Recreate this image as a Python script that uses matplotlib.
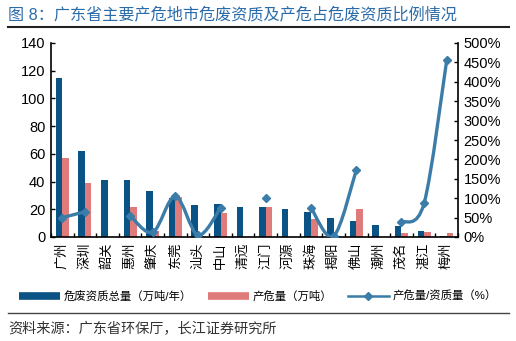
import matplotlib
matplotlib.use("Agg")
import matplotlib.pyplot as plt
import numpy as np
from matplotlib.path import Path
from matplotlib.patches import PathPatch
from matplotlib.lines import Line2D
from matplotlib.ticker import FuncFormatter, MultipleLocator, FixedLocator

plt.rcParams['font.family'] = ['Liberation Sans', 'Noto Sans CJK SC', 'DejaVu Sans']

cities = ['广州', '深圳', '韶关', '惠州', '肇庆', '东莞', '汕头', '中山', '清远',
          '江门', '河源', '珠海', '揭阳', '佛山', '潮州', '茂名', '湛江', '梅州']
capacity = [115, 62, 41, 41, 33, 28, 23, 24, 22, 22, 20, 18, 14, 11.5, 8.5, 8, 4.3, 0.7]
produced = [57, 39, 0, 22, 4, 29, 0.5, 17, 0, 22, 0, 13, 0.5, 20, 0, 3, 3.6, 3]
ratio = [50, 65, None, 55, 12, 105, 5, 75, None, 100, None, 75, 2, 172, None, 38, 87, 455]

c_blue = '#0B5385'
c_red = '#E07B7B'
c_line = '#3B7CA8'

fig = plt.figure(figsize=(5.16, 3.41), dpi=100)
ax = fig.add_axes([51/516, 1-237/341, (458-51)/516, (237-43)/341])
ax2 = ax.twinx()

x = np.arange(len(cities))
w = 0.29
ax.bar(x - w/2, capacity, w, color=c_blue, zorder=2)
ax.bar(x + w/2, produced, w, color=c_red, zorder=2)

ax.set_xlim(-0.5, len(cities) - 0.5)
ax.set_ylim(0, 140)
ax.yaxis.set_major_locator(MultipleLocator(20))
ax2.set_ylim(0, 500)
ax2.yaxis.set_major_locator(MultipleLocator(50))
ax2.yaxis.set_major_formatter(FuncFormatter(lambda v, p: f'{int(v)}%'))

ax.set_xticks(x)
ax.set_xticklabels(cities, rotation=90, fontsize=9.5)
ax.xaxis.set_minor_locator(FixedLocator(np.arange(-0.5, len(cities), 1.0)))
ax.tick_params(axis='x', which='major', length=0, pad=4)
ax.tick_params(axis='x', which='minor', direction='in', length=3, width=1)
ax.tick_params(axis='y', direction='in', length=3, width=1, labelsize=10.5, pad=4)
ax2.tick_params(axis='y', direction='in', length=3, width=1, labelsize=10.5, pad=4)

for a in (ax, ax2):
    a.spines['top'].set_visible(False)
    for s in ('left', 'right', 'bottom'):
        a.spines[s].set_linewidth(1.2)
ax.spines['right'].set_visible(False)
ax2.spines['left'].set_visible(False)
ax2.spines['bottom'].set_visible(False)

# smoothed line segments (Catmull-Rom -> Bezier), split at missing values
runs = []
cur = []
for i, r in enumerate(ratio):
    if r is None:
        if cur:
            runs.append(cur)
        cur = []
    else:
        cur.append((i, r))
if cur:
    runs.append(cur)

for run in runs:
    pts = np.array(run, dtype=float)
    if len(pts) >= 2:
        verts = [tuple(pts[0])]
        codes = [Path.MOVETO]
        n = len(pts)
        for k in range(n - 1):
            p0 = pts[k - 1] if k > 0 else pts[k]
            p1 = pts[k]
            p2 = pts[k + 1]
            p3 = pts[k + 2] if k + 2 < n else pts[k + 1]
            c1 = p1 + (p2 - p0) / 6.0
            c2 = p2 - (p3 - p1) / 6.0
            verts += [tuple(c1), tuple(c2), tuple(p2)]
            codes += [Path.CURVE4, Path.CURVE4, Path.CURVE4]
        patch = PathPatch(Path(verts, codes), facecolor='none', edgecolor=c_line,
                          lw=2.4, zorder=3, capstyle='round')
        ax2.add_patch(patch)
    ax2.plot(pts[:, 0], pts[:, 1], linestyle='none', marker='D', markersize=4.5,
             color=c_line, zorder=4)

# legend
handles = [
    Line2D([], [], color=c_blue, lw=5.5, solid_capstyle='butt'),
    Line2D([], [], color=c_red, lw=5.5, solid_capstyle='butt'),
    Line2D([], [], color=c_line, lw=1.8, marker='D', markersize=4),
]
labels = ['危废资质总量（万吨/年）', '产危量（万吨）', '产危量/资质量（%）']
fig.legend(handles, labels, loc='center', bbox_to_anchor=(258/516, 1-296/341),
           ncol=3, frameon=False, fontsize=8.2, handlelength=3.6,
           columnspacing=1.4, handletextpad=0.3)

# title, rules, source
fig.text(8/516, 1-14/341, '图 8：广东省主要产危地市危废资质及产危占危废资质比例情况',
         fontsize=11.6, color='#2A6BAA', va='center', ha='left')
fig.add_artist(Line2D([8/516, 509/516], [1-27/341, 1-27/341], color='#222222', lw=1.5,
                      transform=fig.transFigure))
fig.add_artist(Line2D([8/516, 509/516], [1-313/341, 1-313/341], color='#444444', lw=1.0,
                      transform=fig.transFigure))
fig.text(8/516, 1-328/341, '资料来源：广东省环保厅，长江证券研究所',
         fontsize=10.2, color='#333333', va='center', ha='left')

fig.savefig('out.png', dpi=100)
